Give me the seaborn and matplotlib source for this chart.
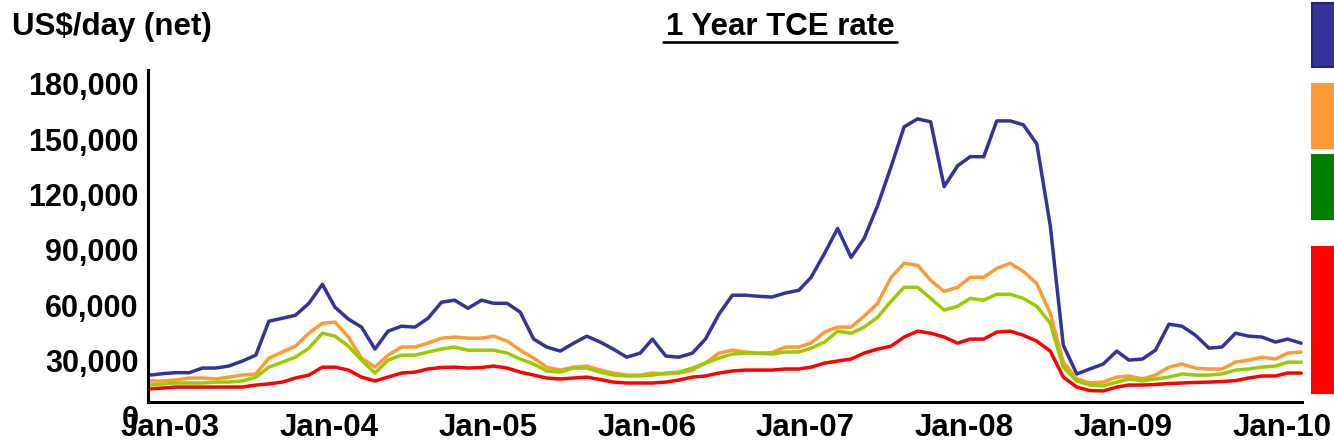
import pandas as pd
import matplotlib
matplotlib.use("Agg")
import matplotlib.pyplot as plt
import matplotlib.dates as mdates
from matplotlib.patches import Rectangle
from matplotlib.lines import Line2D
from matplotlib.transforms import ScaledTranslation
import seaborn as sns

# Dados mensais (Jan-03 a Abr-10), US$/dia
meses = pd.date_range("2003-01-01", periods=88, freq="MS")

capesize = [14600, 15400, 15900, 15900, 18400, 18400, 19500, 22200, 25400, 43800,
            45400, 47000, 53500, 63800, 51400, 44900, 40600, 28700, 38400, 41100,
            40600, 45400, 54100, 55200, 50800, 55200, 53500, 53500, 48700, 34100,
            29800, 27600, 31900, 35700, 32500, 28700, 24300, 26500, 34100, 24900,
            24300, 26500, 34100, 47600, 57900, 57900, 57300, 56900, 59100, 60600,
            67600, 80600, 94100, 78400, 88700, 106500, 127600, 149200, 153500, 151900,
            116800, 128100, 133000, 133000, 152400, 152400, 150300, 140000, 95700, 30800,
            15200, 17900, 20600, 27600, 22700, 23300, 28100, 42200, 41100, 36200,
            29200, 29800, 37300, 35700, 35200, 32500, 34100, 31900]

panamax = [11400, 11400, 11900, 13000, 13000, 12500, 13500, 14600, 15200, 23800,
           27100, 30300, 37300, 42700, 43300, 35200, 23800, 18900, 25400, 29800,
           29800, 31900, 34600, 35200, 34600, 34600, 35700, 33000, 28100, 23800,
           18900, 17300, 18900, 19500, 17300, 15700, 14600, 14600, 15700, 15200,
           15700, 17300, 21100, 26500, 28100, 27100, 26500, 26800, 29800, 29800,
           31900, 37900, 40600, 40600, 46500, 53500, 67600, 75200, 74100, 66000,
           60000, 62200, 67600, 67600, 72500, 75200, 70800, 64300, 48100, 21600,
           12500, 10300, 10800, 13500, 14100, 12500, 14600, 18900, 20600, 18400,
           17900, 17900, 21600, 22700, 24300, 23300, 26500, 27100]

supramax = [9200, 9800, 10300, 10300, 10300, 10800, 10800, 11400, 13500, 18900,
            21600, 24300, 29200, 37300, 35700, 30300, 22700, 15700, 22700, 25400,
            25400, 27100, 28700, 29800, 28100, 28100, 28100, 26500, 23300, 20600,
            16800, 16200, 18400, 18400, 16200, 14600, 14100, 14100, 14600, 15700,
            16200, 18400, 21100, 23800, 26000, 26500, 26500, 26000, 27100, 27100,
            29200, 32500, 38400, 37300, 40600, 46000, 54600, 62200, 62200, 56200,
            49800, 51900, 56200, 55200, 58400, 58400, 56200, 51900, 42700, 18900,
            11400, 9200, 8700, 10800, 12500, 11400, 12500, 13500, 15200, 14600,
            14600, 15200, 17300, 17900, 18900, 19500, 21600, 21600]

handysize = [7100, 7600, 8100, 8100, 8100, 8100, 8100, 8100, 9200, 9800,
             10800, 13000, 14600, 18900, 18900, 17300, 13500, 11400, 13500, 15700,
             16200, 17900, 18700, 18900, 18400, 18700, 19500, 18400, 16200, 14600,
             13000, 12500, 13000, 13500, 12200, 10800, 10300, 10300, 10300, 10800,
             11900, 13500, 14100, 15700, 16800, 17300, 17300, 17300, 17900, 17900,
             18900, 21100, 22200, 23300, 26500, 28700, 30300, 35200, 38400, 37300,
             35200, 31900, 34100, 34100, 37900, 38400, 36200, 33000, 27600, 13500,
             8100, 6200, 6000, 8100, 9200, 9200, 9500, 10000, 10300, 10600,
             10800, 11100, 11600, 13000, 14100, 14100, 15700, 15700]

series = ["Capesize", "Panamax", "Supramax", "Handysize"]
cores_linha = ["#333399", "#FF9933", "#99CC00", "#FF0000"]
cores_caixa = ["#333399", "#FF9933", "#008000", "#FF0000"]

df = pd.DataFrame({"Data": meses, "Capesize": capesize, "Panamax": panamax,
                   "Supramax": supramax, "Handysize": handysize})
df = df.melt(id_vars="Data", var_name="Tipo", value_name="TCE")

sns.set_style("white")
plt.rcParams["font.family"] = ["Liberation Sans", "DejaVu Sans"]
plt.rcParams["font.weight"] = "bold"
plt.rcParams["text.color"] = "black"
plt.rcParams["xtick.color"] = "black"
plt.rcParams["ytick.color"] = "black"
plt.rcParams["axes.labelcolor"] = "black"

fig = plt.figure(figsize=(13.34, 4.45), dpi=100)
ax = fig.add_axes([148 / 1334, 43 / 445, (1302 - 148) / 1334, 332 / 445])

sns.lineplot(data=df, x="Data", y="TCE", hue="Tipo", hue_order=series,
             palette=cores_linha, linewidth=2.5, legend=False, ax=ax, clip_on=False)

ax.set_ylim(0, 180000)
ax.set_xlim(pd.Timestamp("2002-12-27"), pd.Timestamp("2010-04-03"))
ax.set_yticks(range(0, 180001, 30000))
ax.set_yticklabels([f"{v:,}" for v in range(0, 180001, 30000)])
anos = pd.date_range("2003-01-01", "2010-01-01", freq="YS")
ax.set_xticks(anos)
ax.xaxis.set_major_formatter(mdates.DateFormatter("%b-%y"))
ax.set_xlabel("")
ax.set_ylabel("")

for s in ["top", "right"]:
    ax.spines[s].set_visible(False)
for s in ["left", "bottom"]:
    ax.spines[s].set_linewidth(2.2)
    ax.spines[s].set_color("black")

ax.tick_params(axis="y", length=0, pad=7, labelsize=22, labelcolor="black")
ax.tick_params(axis="x", direction="in", length=3, width=1.5, pad=8, labelsize=22.5,
               labelcolor="black", color="black")
for lab in ax.get_yticklabels():
    lab.set_fontweight("bold")
    lab.set_transform(lab.get_transform() + ScaledTranslation(0, -14 / 100, fig.dpi_scale_trans))
for lab in ax.get_xticklabels():
    lab.set_fontweight("bold")
    lab.set_transform(lab.get_transform() + ScaledTranslation(20 / 100, 0, fig.dpi_scale_trans))

# Textos
fig.text(12 / 1334, 1 - 35 / 445, "US$/day (net)", fontsize=22.5, fontweight="bold",
         ha="left", va="baseline", color="black")
fig.text(780 / 1334, 1 - 35 / 445, "1 Year TCE rate", fontsize=22.5, fontweight="bold",
         ha="center", va="baseline", color="black")
fig.add_artist(Line2D([663 / 1334, 897 / 1334], [1 - 41.5 / 445, 1 - 41.5 / 445],
                      color="black", linewidth=1.9, transform=fig.transFigure))

# Caixas da legenda (cortadas na borda)
caixas = [(3, 67), (84, 148), (155, 219), (247, 393)]
for (y0, y1), cor in zip(caixas, cores_caixa):
    borda = "#222277" if cor == "#333399" else cor
    fig.add_artist(Rectangle((1312 / 1334, 1 - y1 / 445), 40 / 1334, (y1 - y0) / 445,
                             facecolor=cor, edgecolor=borda, linewidth=1.5,
                             transform=fig.transFigure))

fig.savefig("out.png", dpi=100)
